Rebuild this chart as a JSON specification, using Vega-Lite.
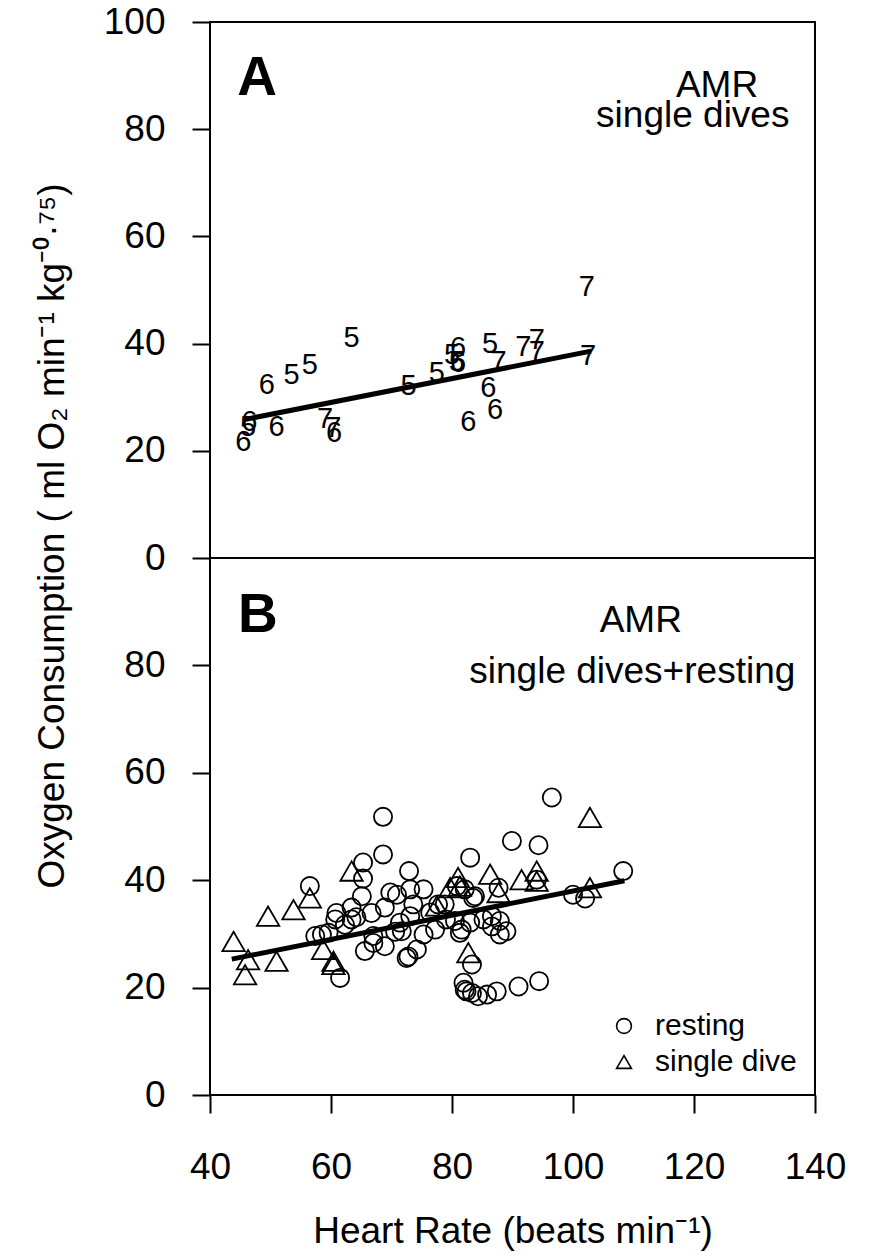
{
  "$schema": "https://vega.github.io/schema/vega-lite/v6.json",
  "background": "white",
  "padding": {"left": 34, "top": 2, "right": 10, "bottom": 5},
  "spacing": 0,
  "bounds": "flush",
  "resolve": {"legend": {"shape": "independent"}, "scale": {"shape": "independent"}},
  "title": {
    "text": "Oxygen Consumption ( ml O₂ min⁻¹ kg⁻⁰·⁷⁵)",
    "orient": "left",
    "anchor": "middle",
    "font": "Liberation Sans",
    "fontSize": 37,
    "fontWeight": "normal",
    "color": "black",
    "offset": 30,
    "dx": 90
  },
  "config": {
    "font": "Liberation Sans",
    "view": {"stroke": "black", "strokeWidth": 2},
    "axis": {
      "domain": false,
      "grid": false,
      "labelFlush": false,
      "tickColor": "black",
      "tickWidth": 2,
      "tickSize": 18,
      "labelFont": "Liberation Sans",
      "labelFontSize": 37,
      "labelColor": "black",
      "titleFont": "Liberation Sans",
      "titleFontSize": 37,
      "titleFontWeight": "normal",
      "titleColor": "black"
    },
    "legend": {
      "labelFont": "Liberation Sans",
      "labelFontSize": 30,
      "labelColor": "black",
      "symbolSize": 220,
      "symbolStrokeWidth": 1.6,
      "symbolStrokeColor": "black",
      "symbolFillColor": "transparent",
      "rowPadding": 6,
      "labelOffset": 16
    }
  },
  "datasets": {
    "a": [
      {"hr": 46.3, "vo2": 24.5, "dive": "5"},
      {"hr": 45.5, "vo2": 21.7, "dive": "6"},
      {"hr": 46.5, "vo2": 25.3, "dive": "6"},
      {"hr": 51.0, "vo2": 24.5, "dive": "6"},
      {"hr": 49.4, "vo2": 32.3, "dive": "6"},
      {"hr": 53.5, "vo2": 34.1, "dive": "5"},
      {"hr": 56.5, "vo2": 36.0, "dive": "5"},
      {"hr": 63.4, "vo2": 41.0, "dive": "5"},
      {"hr": 59.0, "vo2": 26.0, "dive": "7"},
      {"hr": 60.4, "vo2": 24.2, "dive": "7"},
      {"hr": 60.5, "vo2": 23.3, "dive": "6"},
      {"hr": 72.8, "vo2": 32.0, "dive": "5"},
      {"hr": 77.5, "vo2": 34.5, "dive": "5"},
      {"hr": 80.0, "vo2": 37.9, "dive": "5"},
      {"hr": 81.0, "vo2": 39.1, "dive": "6"},
      {"hr": 80.8, "vo2": 36.6, "dive": "5"},
      {"hr": 81.0, "vo2": 36.3, "dive": "6"},
      {"hr": 86.3, "vo2": 40.0, "dive": "5"},
      {"hr": 87.7, "vo2": 36.6, "dive": "7"},
      {"hr": 86.0, "vo2": 31.7, "dive": "6"},
      {"hr": 87.1, "vo2": 27.6, "dive": "6"},
      {"hr": 82.7, "vo2": 25.4, "dive": "6"},
      {"hr": 91.8, "vo2": 39.4, "dive": "7"},
      {"hr": 94.0, "vo2": 40.7, "dive": "7"},
      {"hr": 94.0, "vo2": 38.5, "dive": "7"},
      {"hr": 102.5, "vo2": 37.6, "dive": "7"},
      {"hr": 102.3, "vo2": 50.6, "dive": "7"}
    ],
    "fitA": [
      {"hr": 45.5, "vo2": 25.8},
      {"hr": 103.0, "vo2": 38.6}
    ],
    "b": [
      {"hr": 96.5, "vo2": 55.4, "type": "resting"},
      {"hr": 68.6, "vo2": 51.8, "type": "resting"},
      {"hr": 68.6, "vo2": 44.8, "type": "resting"},
      {"hr": 65.3, "vo2": 43.3, "type": "resting"},
      {"hr": 65.3, "vo2": 40.3, "type": "resting"},
      {"hr": 56.5, "vo2": 38.9, "type": "resting"},
      {"hr": 72.9, "vo2": 41.7, "type": "resting"},
      {"hr": 83.0, "vo2": 44.2, "type": "resting"},
      {"hr": 89.9, "vo2": 47.3, "type": "resting"},
      {"hr": 94.3, "vo2": 46.5, "type": "resting"},
      {"hr": 108.3, "vo2": 41.7, "type": "resting"},
      {"hr": 94.0, "vo2": 40.1, "type": "resting"},
      {"hr": 100.0, "vo2": 37.3, "type": "resting"},
      {"hr": 102.0, "vo2": 36.6, "type": "resting"},
      {"hr": 65.1, "vo2": 37.0, "type": "resting"},
      {"hr": 60.9, "vo2": 33.9, "type": "resting"},
      {"hr": 60.7, "vo2": 32.7, "type": "resting"},
      {"hr": 63.4, "vo2": 34.9, "type": "resting"},
      {"hr": 63.4, "vo2": 32.7, "type": "resting"},
      {"hr": 57.4, "vo2": 29.6, "type": "resting"},
      {"hr": 58.5, "vo2": 29.9, "type": "resting"},
      {"hr": 59.6, "vo2": 30.2, "type": "resting"},
      {"hr": 66.7, "vo2": 33.9, "type": "resting"},
      {"hr": 68.9, "vo2": 34.9, "type": "resting"},
      {"hr": 69.8, "vo2": 37.7, "type": "resting"},
      {"hr": 70.9, "vo2": 37.3, "type": "resting"},
      {"hr": 73.1, "vo2": 38.3, "type": "resting"},
      {"hr": 75.3, "vo2": 38.3, "type": "resting"},
      {"hr": 65.6, "vo2": 26.8, "type": "resting"},
      {"hr": 68.9, "vo2": 27.7, "type": "resting"},
      {"hr": 67.0, "vo2": 29.6, "type": "resting"},
      {"hr": 67.0, "vo2": 28.3, "type": "resting"},
      {"hr": 72.5, "vo2": 25.5, "type": "resting"},
      {"hr": 61.5, "vo2": 21.8, "type": "resting"},
      {"hr": 74.2, "vo2": 27.1, "type": "resting"},
      {"hr": 75.3, "vo2": 29.9, "type": "resting"},
      {"hr": 71.4, "vo2": 32.1, "type": "resting"},
      {"hr": 71.7, "vo2": 30.5, "type": "resting"},
      {"hr": 73.1, "vo2": 33.3, "type": "resting"},
      {"hr": 73.6, "vo2": 35.5, "type": "resting"},
      {"hr": 77.7, "vo2": 35.5, "type": "resting"},
      {"hr": 78.8, "vo2": 35.5, "type": "resting"},
      {"hr": 80.8, "vo2": 38.9, "type": "resting"},
      {"hr": 82.1, "vo2": 38.3, "type": "resting"},
      {"hr": 83.5, "vo2": 36.7, "type": "resting"},
      {"hr": 87.7, "vo2": 38.6, "type": "resting"},
      {"hr": 80.5, "vo2": 32.4, "type": "resting"},
      {"hr": 81.6, "vo2": 30.8, "type": "resting"},
      {"hr": 83.0, "vo2": 32.1, "type": "resting"},
      {"hr": 85.2, "vo2": 32.7, "type": "resting"},
      {"hr": 86.6, "vo2": 33.3, "type": "resting"},
      {"hr": 87.9, "vo2": 32.4, "type": "resting"},
      {"hr": 87.9, "vo2": 29.9, "type": "resting"},
      {"hr": 89.0, "vo2": 30.5, "type": "resting"},
      {"hr": 86.6, "vo2": 31.4, "type": "resting"},
      {"hr": 81.3, "vo2": 30.2, "type": "resting"},
      {"hr": 83.3, "vo2": 24.3, "type": "resting"},
      {"hr": 81.9, "vo2": 20.9, "type": "resting"},
      {"hr": 82.1, "vo2": 19.6, "type": "resting"},
      {"hr": 82.4, "vo2": 19.3, "type": "resting"},
      {"hr": 83.3, "vo2": 19.0, "type": "resting"},
      {"hr": 84.3, "vo2": 18.4, "type": "resting"},
      {"hr": 85.8, "vo2": 18.7, "type": "resting"},
      {"hr": 87.4, "vo2": 19.3, "type": "resting"},
      {"hr": 91.0, "vo2": 20.2, "type": "resting"},
      {"hr": 94.4, "vo2": 21.2, "type": "resting"},
      {"hr": 72.8, "vo2": 25.8, "type": "resting"},
      {"hr": 83.8, "vo2": 37.0, "type": "resting"},
      {"hr": 62.3, "vo2": 31.7, "type": "resting"},
      {"hr": 64.2, "vo2": 33.1, "type": "resting"},
      {"hr": 76.4, "vo2": 34.0, "type": "resting"},
      {"hr": 79.0, "vo2": 32.7, "type": "resting"},
      {"hr": 70.6, "vo2": 30.4, "type": "resting"},
      {"hr": 77.2, "vo2": 30.8, "type": "resting"},
      {"hr": 43.9, "vo2": 28.6, "type": "single dive"},
      {"hr": 45.8, "vo2": 22.4, "type": "single dive"},
      {"hr": 46.3, "vo2": 25.2, "type": "single dive"},
      {"hr": 49.6, "vo2": 33.3, "type": "single dive"},
      {"hr": 51.0, "vo2": 24.9, "type": "single dive"},
      {"hr": 53.8, "vo2": 34.5, "type": "single dive"},
      {"hr": 56.5, "vo2": 36.7, "type": "single dive"},
      {"hr": 63.4, "vo2": 41.7, "type": "single dive"},
      {"hr": 58.7, "vo2": 27.1, "type": "single dive"},
      {"hr": 60.4, "vo2": 24.9, "type": "single dive"},
      {"hr": 60.4, "vo2": 24.3, "type": "single dive"},
      {"hr": 81.0, "vo2": 40.5, "type": "single dive"},
      {"hr": 81.3, "vo2": 38.9, "type": "single dive"},
      {"hr": 79.7, "vo2": 38.6, "type": "single dive"},
      {"hr": 77.5, "vo2": 35.2, "type": "single dive"},
      {"hr": 86.3, "vo2": 41.1, "type": "single dive"},
      {"hr": 91.5, "vo2": 40.1, "type": "single dive"},
      {"hr": 94.0, "vo2": 41.7, "type": "single dive"},
      {"hr": 94.0, "vo2": 39.8, "type": "single dive"},
      {"hr": 87.7, "vo2": 37.7, "type": "single dive"},
      {"hr": 82.7, "vo2": 26.5, "type": "single dive"},
      {"hr": 102.8, "vo2": 51.7, "type": "single dive"},
      {"hr": 102.8, "vo2": 38.6, "type": "single dive"}
    ],
    "fitB": [
      {"hr": 43.6, "vo2": 25.3},
      {"hr": 108.5, "vo2": 39.9}
    ]
  },
  "vconcat": [
    {
      "width": 605,
      "height": 536,
      "layer": [
        {
          "data": {"name": "a"},
          "mark": {"type": "text", "fontSize": 29, "font": "Liberation Sans", "color": "black", "align": "center", "baseline": "middle"},
          "encoding": {
            "x": {"field": "hr", "type": "quantitative", "scale": {"domain": [40, 140], "nice": false, "zero": false}, "axis": null},
            "y": {"field": "vo2", "type": "quantitative", "scale": {"domain": [0, 100], "nice": false}, "axis": {"values": [0, 20, 40, 60, 80, 100], "title": null, "labelPadding": 27}},
            "text": {"field": "dive", "type": "nominal"}
          }
        },
        {
          "data": {"name": "fitA"},
          "mark": {"type": "line", "color": "black", "strokeWidth": 5, "strokeCap": "butt"},
          "encoding": {
            "x": {"field": "hr", "type": "quantitative"},
            "y": {"field": "vo2", "type": "quantitative"}
          }
        },
        {
          "data": {"values": [{}]},
          "mark": {"type": "text", "fontSize": 55, "fontWeight": "bold", "font": "Liberation Sans", "color": "black", "align": "center", "baseline": "alphabetic"},
          "encoding": {"x": {"datum": 47.8}, "y": {"datum": 86.3}, "text": {"value": "A"}}
        },
        {
          "data": {"values": [{}]},
          "mark": {"type": "text", "fontSize": 37, "font": "Liberation Sans", "color": "black", "align": "center", "baseline": "alphabetic"},
          "encoding": {"x": {"datum": 123.8}, "y": {"datum": 86.0}, "text": {"value": "AMR"}}
        },
        {
          "data": {"values": [{}]},
          "mark": {"type": "text", "fontSize": 37, "font": "Liberation Sans", "color": "black", "align": "center", "baseline": "alphabetic"},
          "encoding": {"x": {"datum": 119.8}, "y": {"datum": 80.5}, "text": {"value": "single dives"}}
        }
      ]
    },
    {
      "width": 605,
      "height": 537,
      "layer": [
        {
          "data": {"name": "b"},
          "transform": [{"filter": "datum.type === 'resting'"}],
          "mark": {"type": "point", "filled": false, "stroke": "black", "strokeWidth": 1.8, "opacity": 1, "size": 330},
          "encoding": {
            "x": {"field": "hr", "type": "quantitative", "scale": {"domain": [40, 140], "nice": false, "zero": false}, "axis": {"values": [40, 60, 80, 100, 120, 140], "title": "Heart Rate (beats min⁻¹)", "labelPadding": 36, "titlePadding": 28}},
            "y": {"field": "vo2", "type": "quantitative", "scale": {"domain": [0, 100], "nice": false}, "axis": {"values": [0, 20, 40, 60, 80], "title": null, "labelPadding": 27}},
            "shape": {"field": "type", "type": "nominal", "scale": {"domain": ["resting", "single dive"], "range": ["circle", "triangle-up"]}, "legend": {"title": null, "orient": "bottom-right", "offset": 18}}
          }
        },
        {
          "data": {"name": "b"},
          "transform": [{"filter": "datum.type === 'single dive'"}],
          "mark": {"type": "point", "filled": false, "stroke": "black", "strokeWidth": 1.8, "opacity": 1, "size": 500},
          "encoding": {
            "x": {"field": "hr", "type": "quantitative"},
            "y": {"field": "vo2", "type": "quantitative"},
            "shape": {"field": "type", "type": "nominal", "scale": {"domain": ["resting", "single dive"], "range": ["circle", "triangle-up"]}, "legend": {"title": null, "orient": "bottom-right", "offset": 18}}
          }
        },
        {
          "data": {"name": "fitB"},
          "mark": {"type": "line", "color": "black", "strokeWidth": 5, "strokeCap": "butt"},
          "encoding": {
            "x": {"field": "hr", "type": "quantitative"},
            "y": {"field": "vo2", "type": "quantitative"}
          }
        },
        {
          "data": {"values": [{}]},
          "mark": {"type": "text", "fontSize": 55, "fontWeight": "bold", "font": "Liberation Sans", "color": "black", "align": "center", "baseline": "alphabetic"},
          "encoding": {"x": {"datum": 47.9}, "y": {"datum": 86.2}, "text": {"value": "B"}}
        },
        {
          "data": {"values": [{}]},
          "mark": {"type": "text", "fontSize": 37, "font": "Liberation Sans", "color": "black", "align": "center", "baseline": "alphabetic"},
          "encoding": {"x": {"datum": 111.2}, "y": {"datum": 86.2}, "text": {"value": "AMR"}}
        },
        {
          "data": {"values": [{}]},
          "mark": {"type": "text", "fontSize": 37, "font": "Liberation Sans", "color": "black", "align": "center", "baseline": "alphabetic"},
          "encoding": {"x": {"datum": 109.8}, "y": {"datum": 76.7}, "text": {"value": "single dives+resting"}}
        }
      ]
    }
  ]
}
